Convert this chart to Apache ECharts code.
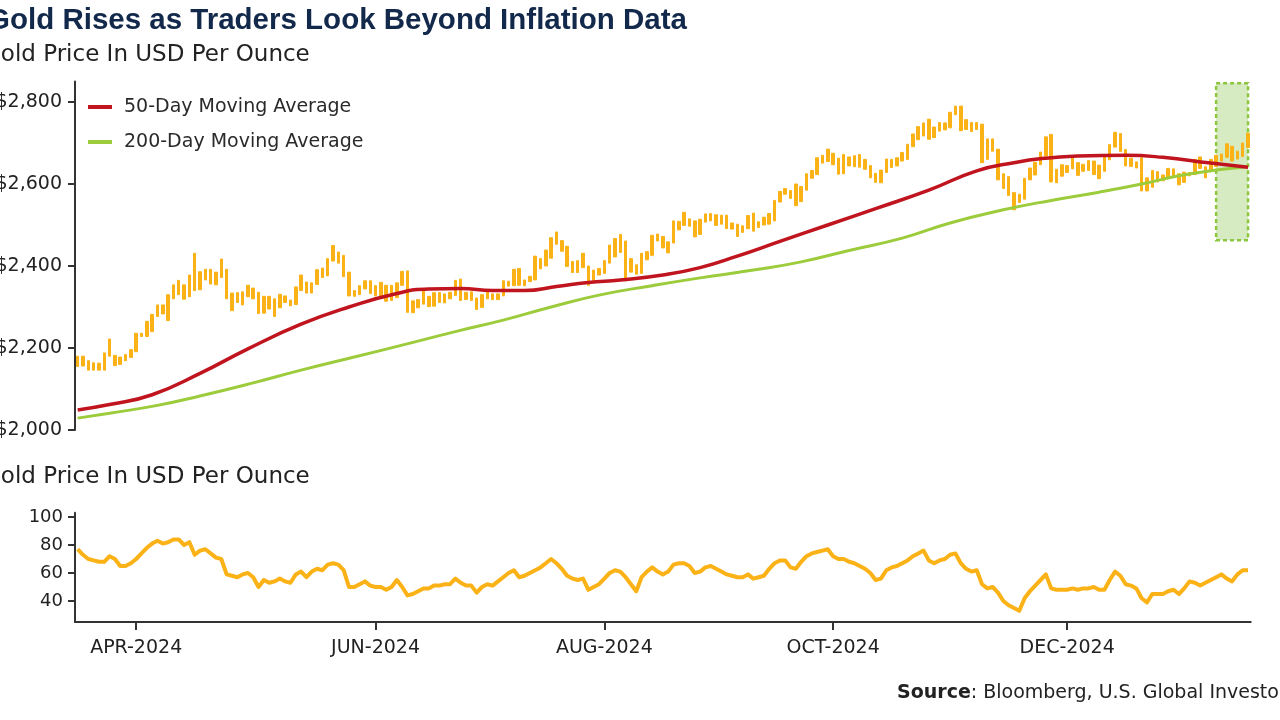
<!DOCTYPE html>
<html><head><meta charset="utf-8">
<script src="https://cdn.jsdelivr.net/npm/echarts@6/dist/echarts.min.js"></script>
<style>html,body{margin:0;padding:0;background:#fff;}#c{width:1280px;height:720px;}</style>
</head><body><div id="c"></div>
<script>
// ---- data ----
const startDate = '2024-03-15';
const endDate = '2025-01-17';
const tickMonths = ['2024-04', '2024-06', '2024-08', '2024-10', '2024-12'];
const priceTicks = [2000, 2200, 2400, 2600, 2800];
const rsiTicks = [40, 60, 80, 100];

const dayLow = [
2155,2156,2146,2146,2146,2146,2180,2157,2160,2169,
2177,2191,2228,2228,2240,2277,2283,2267,2320,2330,
2319,2325,2340,2342,2366,2356,2354,2372,2320,2291,
2311,2305,2325,2320,2284,2285,2295,2277,2298,2311,
2303,2306,2340,2334,2334,2355,2372,2376,2412,2407,
2374,2327,2326,2330,2344,2333,2327,2323,2314,2316,
2323,2353,2287,2286,2298,2307,2301,2302,2311,2310,
2320,2328,2316,2318,2316,2294,2299,2320,2318,2318,
2327,2351,2352,2353,2352,2362,2366,2393,2400,2419,
2453,2436,2399,2384,2384,2396,2353,2364,2378,2382,
2407,2422,2433,2364,2385,2380,2382,2415,2426,2461,
2444,2432,2456,2488,2499,2497,2471,2477,2507,2510,
2499,2502,2491,2490,2472,2482,2491,2485,2494,2500,
2502,2510,2556,2575,2565,2547,2557,2585,2614,2623,
2651,2655,2647,2624,2625,2644,2642,2641,2636,2615,
2604,2603,2628,2640,2644,2656,2660,2691,2708,2717,
2709,2713,2729,2732,2737,2769,2730,2733,2728,2733,
2652,2660,2680,2610,2589,2572,2537,2555,2563,2610,
2622,2647,2668,2605,2603,2619,2628,2637,2621,2631,
2633,2623,2613,2631,2659,2690,2679,2644,2643,2639,
2583,2583,2592,2605,2608,2616,2617,2598,2604,2620,
2623,2638,2615,2633,2643,2656,2665,2656,2661,2667,
2689];
const dayHigh = [
2180,2180,2169,2164,2163,2188,2222,2182,2178,2184,
2196,2236,2236,2265,2282,2305,2305,2330,2354,2365,
2354,2378,2431,2386,2392,2392,2385,2417,2392,2334,
2335,2337,2353,2346,2336,2326,2326,2320,2331,2327,
2317,2349,2378,2361,2359,2391,2395,2418,2450,2434,
2426,2385,2340,2352,2364,2364,2352,2360,2353,2353,
2359,2387,2388,2315,2318,2342,2326,2335,2335,2332,
2336,2365,2368,2336,2337,2322,2330,2339,2332,2332,
2364,2363,2392,2394,2366,2375,2424,2418,2439,2469,
2483,2462,2448,2411,2413,2431,2400,2390,2394,2413,
2451,2467,2477,2461,2418,2403,2431,2435,2475,2478,
2472,2459,2510,2509,2531,2515,2510,2514,2527,2528,
2525,2524,2524,2505,2502,2498,2523,2529,2508,2519,
2528,2560,2582,2589,2584,2600,2594,2625,2633,2664,
2670,2685,2675,2663,2672,2666,2669,2672,2660,2645,
2626,2634,2661,2660,2664,2677,2697,2722,2740,2749,
2758,2739,2750,2749,2775,2790,2790,2757,2750,2750,
2746,2710,2710,2685,2625,2618,2579,2575,2614,2639,
2653,2678,2715,2721,2636,2647,2645,2665,2652,2648,
2657,2656,2646,2668,2696,2726,2723,2684,2663,2654,
2664,2615,2633,2630,2622,2638,2637,2625,2629,2628,
2660,2666,2642,2660,2670,2673,2698,2692,2680,2700,
2724];
// [slot index, value]
const ma50Points = [[0,2049],[6,2062],[14,2086],[23,2138],[32,2198],[42,2258],[51,2300],[60,2333],[66,2344],[72,2345],[78,2340],[84,2340],[90,2350],[96,2360],[102,2366],[110,2378],[117,2396],[124,2424],[132,2460],[141,2500],[150,2540],[160,2585],[169,2632],[176,2652],[182,2663],[188,2668],[197,2670],[204,2665],[213,2651],[220,2641]];
const ma200Points = [[0,2029],[6,2041],[15,2060],[23,2083],[33,2115],[42,2146],[52,2178],[61,2207],[71,2240],[80,2268],[89,2300],[98,2329],[108,2352],[117,2371],[127,2390],[136,2410],[145,2438],[155,2468],[164,2505],[174,2537],[183,2560],[192,2580],[200,2600],[207,2620],[214,2634],[220,2642]];
const rsiValues = [
77,73,70,69,68,68,72,70,65,65,
67,70,74,78,81,83,81,82,84,84,
80,82,73,76,77,74,71,70,59,58,
57,59,60,57,50,55,53,54,56,54,
53,59,61,57,61,63,62,66,67,66,
62,50,50,52,54,51,50,50,48,50,
55,50,44,45,47,49,49,51,51,52,
52,56,53,51,51,46,50,52,51,54,
57,60,62,57,58,60,62,64,67,70,
67,63,58,56,55,56,48,50,52,56,
60,62,61,57,52,47,57,61,64,61,
59,61,66,67,67,65,60,61,64,65,
63,61,59,58,57,57,59,56,57,58,
63,67,69,69,64,63,68,72,74,75,
76,77,72,70,70,68,67,65,63,60,
55,56,62,64,65,67,69,72,74,76,
69,67,69,70,73,74,67,63,61,62,
52,49,50,46,40,37,35,33,42,47,
51,55,59,49,48,48,48,49,48,49,
49,50,48,48,55,61,58,52,51,49,
42,39,45,45,45,47,48,45,49,54,
53,51,53,55,57,59,56,54,59,62,
62];
const highlightDates = ['2025-01-09', '2025-01-17'];
const highlightBand = [2463, 2846];

// ---- categories: weekdays ----
function weekdays(s, e) {
  const out = [];
  const d = new Date(s + 'T00:00:00Z');
  const end = new Date(e + 'T00:00:00Z');
  while (d <= end) {
    const w = d.getUTCDay();
    if (w !== 0 && w !== 6) out.push(d.toISOString().slice(0, 10));
    d.setUTCDate(d.getUTCDate() + 1);
  }
  return out;
}
const categories = weekdays(startDate, endDate);
const tickIdx = new Set();
tickMonths.forEach(m => { const k = categories.findIndex(c => c.startsWith(m)); if (k >= 0) tickIdx.add(k); });
const MON = ['JAN','FEB','MAR','APR','MAY','JUN','JUL','AUG','SEP','OCT','NOV','DEC'];
const fmtDate = c => MON[+c.slice(5, 7) - 1] + '-' + c.slice(0, 4);

const candles = dayLow.map((lo, i) => [lo, dayHigh[i], lo, dayHigh[i]]);

const GOLD = '#fbb217', RED = '#c0141f', GREEN = '#9ccb3b', AX = '#333';
const FONT = '"DejaVu Sans", sans-serif';

const chart = echarts.init(document.getElementById('c'), null, { renderer: 'canvas' });
chart.setOption({
  backgroundColor: '#fff',
  animation: false,
  textStyle: { fontFamily: FONT },
  legend: {
    data: ['50-Day Moving Average', '200-Day Moving Average'],
    orient: 'vertical', left: 83, top: 91, padding: 5,
    icon: 'rect', itemWidth: 24, itemHeight: 4, itemGap: 13,
    textStyle: { fontSize: 19, color: '#2a2a2a', fontFamily: FONT, lineHeight: 22, padding: [0, 0, 0, 7] }
  },
  grid: [
    { left: 75, right: 29.3, top: 81.5, height: 348.5, outerBoundsMode: 'none', containLabel: false },
    { left: 75, right: 29.3, top: 512.8, height: 109.2, outerBoundsMode: 'none', containLabel: false }
  ],
  xAxis: [
    { type: 'category', gridIndex: 0, data: categories, boundaryGap: true,
      axisLine: { show: false }, axisTick: { show: false }, axisLabel: { show: false }, splitLine: { show: false } },
    { type: 'category', gridIndex: 1, data: categories, boundaryGap: true,
      axisLine: { show: true, lineStyle: { color: AX, width: 2 } },
      axisTick: { show: true, alignWithLabel: true, length: 8, lineStyle: { color: AX, width: 2 }, interval: (i) => tickIdx.has(i) },
      axisLabel: { show: true, interval: (i) => tickIdx.has(i), formatter: fmtDate, margin: 17, fontSize: 19, color: '#222', fontFamily: FONT },
      splitLine: { show: false } }
  ],
  yAxis: [
    { type: 'value', gridIndex: 0, min: 2000, max: 2850,
      axisLine: { show: true, lineStyle: { color: AX, width: 2 } },
      axisTick: { show: true, length: 7, lineStyle: { color: AX, width: 2 }, customValues: priceTicks },
      axisLabel: { customValues: priceTicks, margin: 13, fontSize: 19, color: '#222', fontFamily: FONT,
        formatter: v => '$' + Number(v).toLocaleString('en-US') },
      splitLine: { show: false } },
    { type: 'value', gridIndex: 1, min: 25, max: 103,
      axisLine: { show: true, lineStyle: { color: AX, width: 2 } },
      axisTick: { show: true, length: 7, lineStyle: { color: AX, width: 2 }, customValues: rsiTicks },
      axisLabel: { customValues: rsiTicks, margin: 12, fontSize: 18, color: '#222', fontFamily: FONT },
      splitLine: { show: false } }
  ],
  series: [
    { name: 'Gold', type: 'candlestick', xAxisIndex: 0, yAxisIndex: 0, data: candles, barWidth: 3, z: 2,
      itemStyle: { color: GOLD, color0: GOLD, borderColor: GOLD, borderColor0: GOLD, borderWidth: 1 } },
    { name: '200-Day Moving Average', type: 'line', xAxisIndex: 0, yAxisIndex: 0, data: ma200Points,
      smooth: true, showSymbol: false, symbol: 'none', z: 3, lineStyle: { color: GREEN, width: 3 }, itemStyle: { color: GREEN } },
    { name: '50-Day Moving Average', type: 'line', xAxisIndex: 0, yAxisIndex: 0, data: ma50Points,
      smooth: true, showSymbol: false, symbol: 'none', z: 4, lineStyle: { color: RED, width: 3.5 }, itemStyle: { color: RED } },
    { name: 'highlight', type: 'line', xAxisIndex: 0, yAxisIndex: 0, data: [], z: 6, silent: true,
      markArea: { silent: true,
        itemStyle: { color: 'rgba(160,208,110,0.42)', borderColor: '#8cc63f', borderWidth: 2.5, borderType: [4, 3] },
        data: [[{ xAxis: highlightDates[0], yAxis: highlightBand[1] }, { xAxis: highlightDates[1], yAxis: highlightBand[0] }]] } },
    { name: 'RSI', type: 'line', xAxisIndex: 1, yAxisIndex: 1, data: rsiValues,
      showSymbol: false, symbol: 'none', z: 3, lineStyle: { color: GOLD, width: 4, join: 'round' } }
  ],
  graphic: [
    { type: 'text', x: -13, y: 21, style: { text: 'Gold Rises as Traders Look Beyond Inflation Data',
      font: 'bold 29.5px "Liberation Sans", Arial, sans-serif', fill: '#13294b', verticalAlign: 'middle', textVerticalAlign: 'middle' } },
    { type: 'text', x: -17, y: 55, style: { text: 'Gold Price In USD Per Ounce',
      font: '23px "DejaVu Sans", sans-serif', fill: '#222', verticalAlign: 'middle', textVerticalAlign: 'middle' } },
    { type: 'text', x: -17, y: 477, style: { text: 'Gold Price In USD Per Ounce',
      font: '23px "DejaVu Sans", sans-serif', fill: '#222', verticalAlign: 'middle', textVerticalAlign: 'middle' } },
    { type: 'text', x: 897, y: 693, style: { text: '{b|Source}: Bloomberg, U.S. Global Investors',
      font: '19px "DejaVu Sans", sans-serif', fill: '#222', verticalAlign: 'middle', textVerticalAlign: 'middle',
      rich: { b: { fontWeight: 'bold', fontSize: 19, fontFamily: FONT, fill: '#222', color: '#222' } } } }
  ]
});
</script></body></html>
